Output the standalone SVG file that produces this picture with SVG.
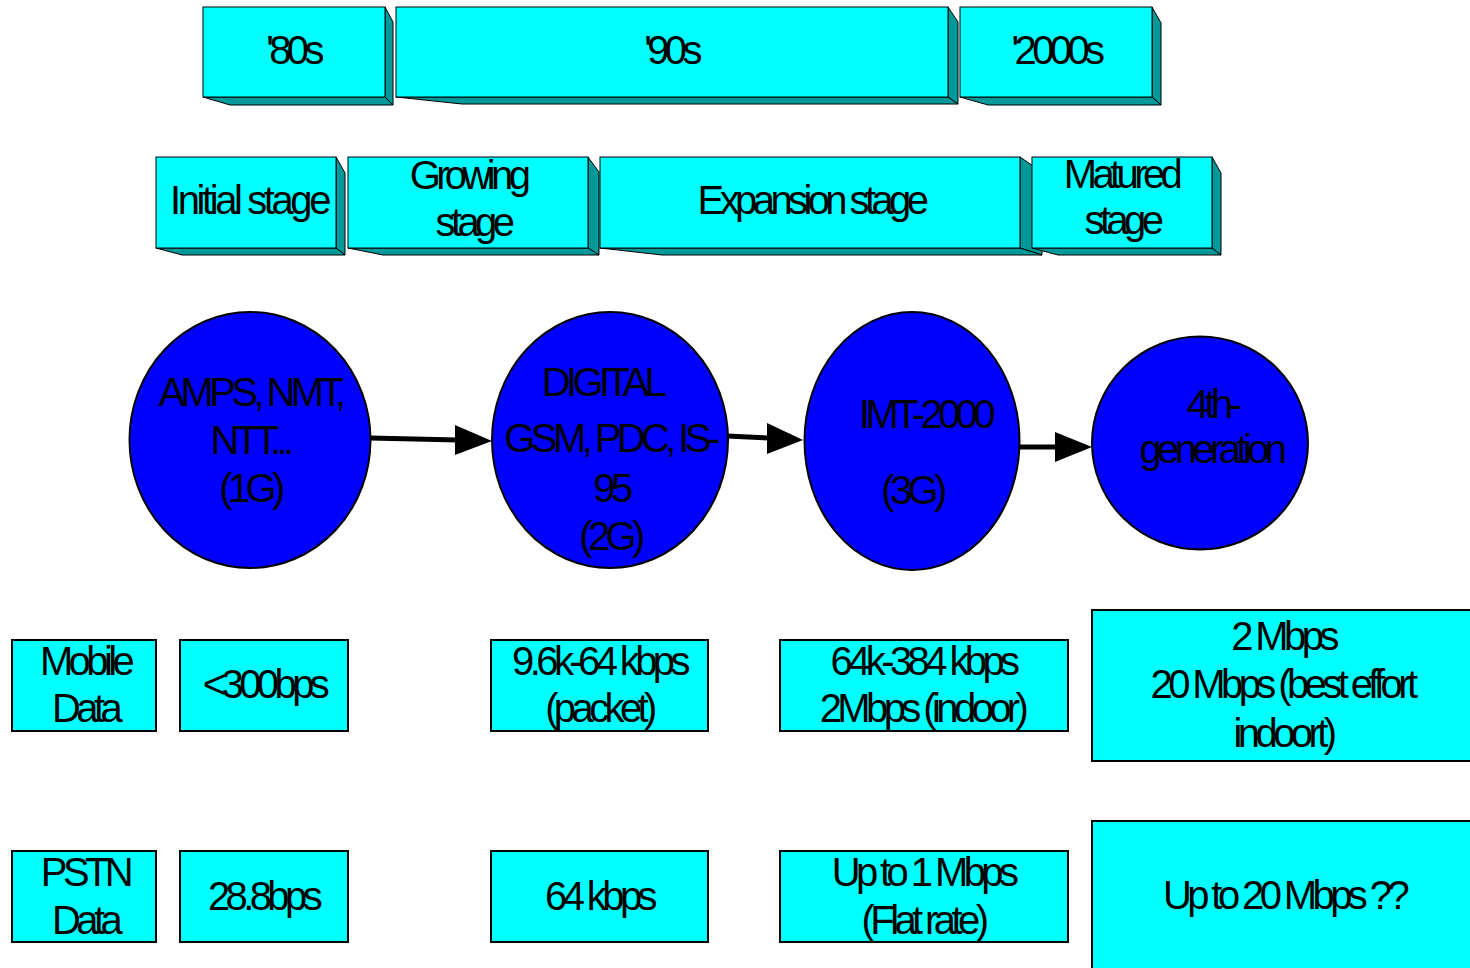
<svg xmlns="http://www.w3.org/2000/svg" width="1470" height="968" viewBox="0 0 1470 968">
<style>
.front{fill:#00FFFF;stroke:#000;stroke-width:1}
.side{fill:#009999;stroke:#000;stroke-width:1;stroke-linejoin:round}
.circ{fill:#0000FF;stroke:#000;stroke-width:2}
.box{fill:#00FFFF;stroke:#000;stroke-width:2}
text{font-family:"Liberation Sans",Arial,sans-serif;font-size:40px;letter-spacing:-4.6px;text-anchor:middle;fill:#000}
.conn line{stroke:#000;stroke-width:5}
.conn polygon{fill:#000}
</style>
<rect width="1470" height="968" fill="#fff"/>

<g id="era-80s">
<polygon class="side" points="385,7 393,22 393,105 385,97"/>
<polygon class="side" points="203,97 385,97 393,105 230,105"/>
<rect class="front" x="203" y="7" width="182" height="90"/>
<text x="293" y="64">'80s</text>
</g>
<g id="era-90s">
<polygon class="side" points="948,7 958,22 958,104 948,97"/>
<polygon class="side" points="396,97 948,97 958,104 462,104"/>
<rect class="front" x="396" y="7" width="552" height="90"/>
<text x="671" y="64">'90s</text>
</g>
<g id="era-2000s">
<polygon class="side" points="1152,7 1161,23 1161,105 1152,97"/>
<polygon class="side" points="960,97 1152,97 1161,105 988,105"/>
<rect class="front" x="960" y="7" width="192" height="90"/>
<text x="1056" y="64">'2000s</text>
</g>

<g id="stage-initial">
<polygon class="side" points="336,157 345,173 345,255 336,248"/>
<polygon class="side" points="156,248 336,248 345,255 182,255"/>
<rect class="front" x="156" y="157" width="180" height="91"/>
<text x="249" y="214" style="letter-spacing:-3.4px">Initial stage</text>
</g>
<g id="stage-growing">
<polygon class="side" points="588,157 599,172 599,255 588,248"/>
<polygon class="side" points="348,248 588,248 599,255 383,255"/>
<rect class="front" x="348" y="157" width="240" height="91"/>
<text x="468" y="189">Growing</text>
<text x="473" y="236">stage</text>
</g>
<g id="stage-expansion">
<polygon class="side" points="1020,157 1042,172 1042,255 1020,248"/>
<polygon class="side" points="600,248 1020,248 1042,255 662,255"/>
<rect class="front" x="600" y="157" width="420" height="91"/>
<text x="811" y="214">Expansion stage</text>
</g>
<g id="stage-matured">
<polygon class="side" points="1212,157 1221,173 1221,255 1212,248"/>
<polygon class="side" points="1032,248 1212,248 1221,255 1058,255"/>
<rect class="front" x="1032" y="157" width="180" height="91"/>
<text x="1121" y="188">Matured</text>
<text x="1122" y="234">stage</text>
</g>

<g id="gen-1g">
<ellipse class="circ" cx="250" cy="440" rx="120.5" ry="128"/>
<text x="250" y="406">AMPS, NMT,</text>
<text x="250" y="454">NTT...</text>
<text x="250" y="502">(1G)</text>
</g>
<g id="gen-2g">
<ellipse class="circ" cx="610" cy="440" rx="118" ry="128"/>
<text x="602" y="396">DIGITAL</text>
<text x="610" y="452">GSM, PDC, IS-</text>
<text x="611" y="502">95</text>
<text x="610" y="550">(2G)</text>
</g>
<g id="gen-3g">
<ellipse class="circ" cx="912" cy="441" rx="107.5" ry="129"/>
<text x="925" y="428">IMT-2000</text>
<text x="912" y="504">(3G)</text>
</g>
<g id="gen-4g">
<ellipse class="circ" cx="1200" cy="443" rx="108" ry="106.5"/>
<text x="1212" y="418">4th-</text>
<text x="1211" y="463">generation</text>
</g>

<g id="connectors" class="conn">
<line x1="370" y1="438" x2="458" y2="440"/>
<polygon points="455,425 492,441 455,455"/>
<line x1="727" y1="436" x2="770" y2="438"/>
<polygon points="767,423 803,440 767,454"/>
<line x1="1019" y1="447" x2="1058" y2="447"/>
<polygon points="1055,432 1092,447 1055,462"/>
</g>

<g id="mobile-label">
<rect class="box" x="12" y="640" width="144" height="91"/>
<text x="85" y="675">Mobile</text>
<text x="85" y="722">Data</text>
</g>
<g id="mobile-1g">
<rect class="box" x="180" y="640" width="168" height="91"/>
<text x="264" y="698">&lt;300bps</text>
</g>
<g id="mobile-2g">
<rect class="box" x="491" y="640" width="217" height="91"/>
<text x="599" y="675">9.6k-64 kbps</text>
<text x="599" y="722">(packet)</text>
</g>
<g id="mobile-3g">
<rect class="box" x="780" y="640" width="288" height="91"/>
<text x="923" y="675">64k-384 kbps</text>
<text x="922" y="722">2Mbps (indoor)</text>
</g>
<g id="mobile-4g">
<rect class="box" x="1092" y="610" width="390" height="151"/>
<text x="1283" y="650">2 Mbps</text>
<text x="1282" y="698">20 Mbps (best effort</text>
<text x="1283" y="747">indoort)</text>
</g>

<g id="pstn-label">
<rect class="box" x="12" y="851" width="144" height="91"/>
<text x="85" y="886">PSTN</text>
<text x="85" y="934">Data</text>
</g>
<g id="pstn-1g">
<rect class="box" x="180" y="851" width="168" height="91"/>
<text x="263" y="910">28.8bps</text>
</g>
<g id="pstn-2g">
<rect class="box" x="491" y="851" width="217" height="91"/>
<text x="599" y="910">64 kbps</text>
</g>
<g id="pstn-3g">
<rect class="box" x="780" y="851" width="288" height="91"/>
<text x="923" y="886">Up to 1 Mbps</text>
<text x="923" y="934">(Flat rate)</text>
</g>
<g id="pstn-4g">
<rect class="box" x="1092" y="821" width="390" height="160"/>
<text x="1284" y="909">Up to 20 Mbps ??</text>
</g>
</svg>
